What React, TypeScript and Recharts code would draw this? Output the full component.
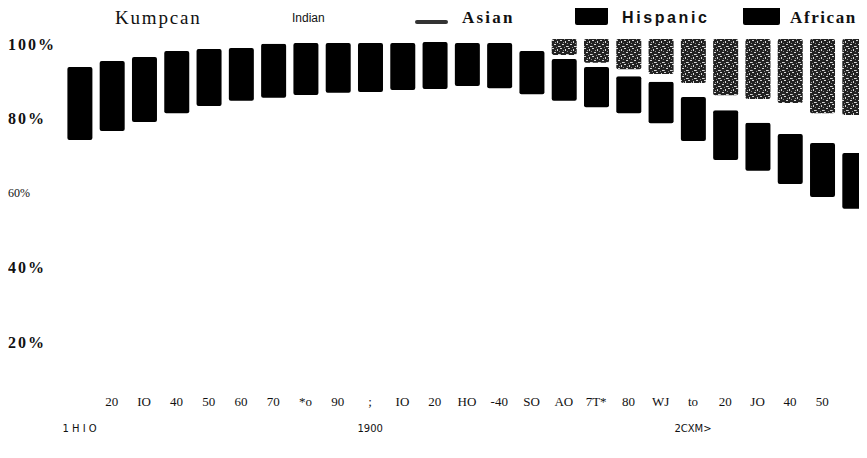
import React from 'react';
import { BarChart, Bar, XAxis, YAxis, Legend } from 'recharts';

const years = [1810, 1820, 1830, 1840, 1850, 1860, 1870, 1880, 1890, 1900, 1910, 1920, 1930, 1940, 1950, 1960, 1970, 1980, 1990, 2000, 2010, 2020, 2030, 2040, 2050];
const european = [72.9, 75.3, 77.7, 80.1, 82.0, 83.4, 84.2, 85.0, 85.6, 85.8, 86.3, 86.6, 87.4, 86.8, 85.2, 83.4, 81.7, 80.1, 77.4, 72.6, 67.5, 64.6, 61.1, 57.6, 54.4];
const african = [19.6, 18.8, 17.5, 16.7, 15.3, 14.2, 14.5, 13.9, 13.3, 13.1, 12.6, 12.6, 11.5, 12.1, 11.6, 11.2, 10.8, 9.9, 11.1, 11.8, 13.4, 12.9, 13.4, 14.5, 15.0];
const indian = [7.5, 5.9, 4.8, 3.2, 2.7, 2.4, 1.3, 1.1, 1.1, 1.0, 0.9, 0.6, 0.8, 0.7, 2.4, 0.6, 0.6, 0.6, 0.7, 0.7, 0.7, 0.7, 0.7, 0.7, 0.7];
const asian = [0, 0, 0, 0, 0, 0, 0, 0, 0, 0.1, 0.2, 0.2, 0.3, 0.4, 0.8, 0.5, 0.5, 1.3, 1.4, 3.1, 3.3, 5.7, 7.6, 7.3, 9.5];
const hispanic = [0, 0, 0, 0, 0, 0, 0, 0, 0, 0, 0, 0, 0, 0, 0, 4.3, 6.4, 8.1, 9.4, 11.8, 15.1, 16.1, 17.2, 19.9, 20.4];

const decadeLabels = ['', '20', 'IO', '40', '50', '60', '70', '*o', '90', ';', 'IO', '20', 'HO', '-40', 'SO', 'AO', '7T*', '80', 'WJ', 'to', '20', 'JO', '40', '50', ''];
const centuryLabels = ['1 H I O', '', '', '', '', '', '', '', '', '1900', '', '', '', '', '', '', '', '', '', '2CXM>', '', '', '', '', ''];

const yTicks = [20, 40, 60, 80, 100];
const yTickLabels = ['20%', '40%', '60%', '80%', '100%'];

const seriesNames: Record<string, string> = {
  european: 'Kumpcan',
  indian: 'Indian',
  asian: 'Asian',
  hispanic: 'Hispanic',
  african: 'African',
};

const data = years.map((year, i) => ({
  year,
  european: european[i],
  african: african[i],
  indian: indian[i],
  asian: asian[i],
  hispanic: hispanic[i],
}));

const XTick = (props: any) => {
  const { x, y, payload } = props;
  const i = payload.index;
  return (
    <g>
      <text x={x} y={y - 6} textAnchor="middle" fontFamily="Liberation Serif" fontSize={13} fill="#111">
        {decadeLabels[i]}
      </text>
      <text x={x} y={y + 20.5} textAnchor="middle" fontFamily="DejaVu Sans" fontSize={10} fill="#111">
        {centuryLabels[i]}
      </text>
    </g>
  );
};

const YTick = (props: any) => {
  const { y, payload } = props;
  const idx = yTicks.indexOf(payload.value);
  const label = yTickLabels[idx];
  const regular = payload.value === 60;
  return (
    <text
      x={0}
      y={regular ? y + 9 : y + 10.5}
      textAnchor="start"
      fontFamily="Liberation Serif"
      fontWeight={regular ? 400 : 700}
      fontSize={regular ? 12 : 16}
      letterSpacing={regular ? 0 : 2}
      fill="#111"
    >
      {label}
    </text>
  );
};

const legendLayout: Record<string, any> = {
  european: { left: 107, font: 'Liberation Serif', size: 19, weight: 400, spacing: 1.8, swatch: null },
  indian: { left: 284, font: 'Liberation Sans', size: 12, weight: 400, spacing: 0, swatch: null },
  asian: { left: 454, font: 'Liberation Serif', size: 17, weight: 700, spacing: 2.2, swatch: { left: 407, top: 12, w: 33, h: 4 } },
  hispanic: { left: 614, font: 'Liberation Sans', size: 16, weight: 700, spacing: 2.6, swatch: { left: 567, top: -2, w: 33, h: 19 } },
  african: { left: 782, font: 'Liberation Serif', size: 17, weight: 700, spacing: 1.6, swatch: { left: 735, top: -3, w: 37, h: 20 } },
};
const legendOrder = ['european', 'indian', 'asian', 'hispanic', 'african'];

const LegendContent = (props: any) => {
  const payload = props.payload || [];
  const keys = legendOrder.filter((k) => payload.some((p: any) => p.dataKey === k));
  return (
    <div style={{ position: 'relative', width: 880, height: 30 }}>
      {keys.map((k) => {
        const l = legendLayout[k];
        return (
          <React.Fragment key={k}>
            {l.swatch && (
              <div
                style={{
                  position: 'absolute',
                  left: l.swatch.left,
                  top: l.swatch.top,
                  width: l.swatch.w,
                  height: l.swatch.h,
                  background: k === 'asian' ? '#333' : '#000',
                  borderRadius: 2,
                }}
              />
            )}
            <span
              style={{
                position: 'absolute',
                left: l.left,
                top: 10 - l.size * 0.6,
                fontFamily: l.font,
                fontSize: l.size,
                fontWeight: l.weight,
                letterSpacing: l.spacing,
                lineHeight: 1.2,
                color: '#111',
                whiteSpace: 'nowrap',
              }}
            >
              {seriesNames[k]}
            </span>
          </React.Fragment>
        );
      })}
    </div>
  );
};

export default function App() {
  return (
    <div style={{ width: 859, height: 442, overflow: 'hidden', background: '#fff' }}>
      <BarChart
        width={880}
        height={442}
        data={data}
        margin={{ top: 31, right: 17.4, bottom: 0, left: 0 }}
        barSize={25}
      >
        <defs>
          <pattern id="hispPattern" width="8" height="8" patternUnits="userSpaceOnUse">
            <rect width="8" height="8" fill="#222" />
            <rect x="0" y="0" width="2" height="1" fill="#d8d8d8" />
            <rect x="5" y="1" width="1" height="2" fill="#d8d8d8" />
            <rect x="2" y="4" width="2" height="1" fill="#d8d8d8" />
            <rect x="6" y="6" width="2" height="1" fill="#d8d8d8" />
            <rect x="3" y="2" width="1" height="1" fill="#999" />
            <rect x="0" y="6" width="1" height="1" fill="#aaa" />
            <rect x="7" y="3" width="1" height="1" fill="#888" />
            <rect x="4" y="7" width="1" height="1" fill="#888" />
          </pattern>
        </defs>
        <XAxis
          dataKey="year"
          interval={0}
          tick={<XTick />}
          tickLine={false}
          axisLine={false}
          tickSize={0}
          tickMargin={0}
          height={38.5}
        />
        <YAxis
          domain={[0, 100]}
          ticks={yTicks}
          tick={<YTick />}
          tickLine={false}
          axisLine={false}
          tickSize={0}
          tickMargin={0}
          width={55.4}
          allowDataOverflow
        />
        <Legend
          content={<LegendContent />}
          layout="vertical"
          align="center"
          verticalAlign="middle"
          wrapperStyle={{ top: 0, left: 0, width: 880, height: 30 }}
        />
        <Bar dataKey="european" stackId="a" fill="#ffffff" isAnimationActive={false} />
        <Bar dataKey="african" stackId="a" fill="#000000" radius={2} isAnimationActive={false} />
        <Bar dataKey="indian" stackId="a" fill="#ffffff" isAnimationActive={false} />
        <Bar dataKey="asian" stackId="a" fill="#ffffff" isAnimationActive={false} />
        <Bar dataKey="hispanic" stackId="a" fill="url(#hispPattern)" radius={2} isAnimationActive={false} />
      </BarChart>
    </div>
  );
}
